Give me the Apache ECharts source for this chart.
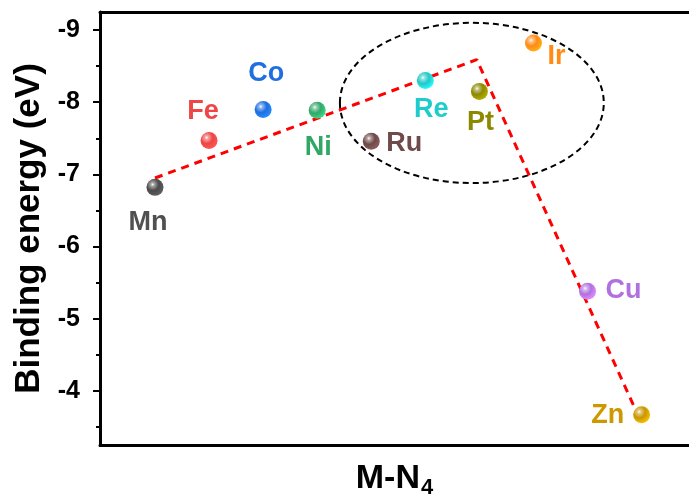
<!DOCTYPE html>
<html>
<head>
<meta charset="utf-8">
<script src="https://cdn.jsdelivr.net/npm/echarts@6/dist/echarts.min.js"></script>
<style>
html,body{margin:0;padding:0;background:#fff;}
#chart{width:689px;height:497px;}
</style>
</head>
<body>
<div id="chart"></div>
<script>
// ---- data ----
var metals = ['Mn', 'Fe', 'Co', 'Ni', 'Ru', 'Re', 'Pt', 'Ir', 'Cu', 'Zn'];
var xIndex = [0, 1, 2, 3, 4, 5, 6, 7, 8, 9];
var bindingEnergy = [-6.82, -7.47, -7.90, -7.89, -7.46, -8.30, -8.15, -8.82, -5.38, -3.67];
var trendX = [0, 5.95, 8.97];
var trendY = [-6.95, -8.59, -3.60];
var yTickValues = [-9, -8, -7, -6, -5, -4];
var yMinorTickValues = [-8.5, -7.5, -6.5, -5.5, -4.5, -3.5];
var ellipseCenter = [5.86, -7.99];
var ellipseRadii = [2.44, 1.11];

// ---- styles ----
var baseColors = ['#4a4a4a', '#ee4444', '#1c6ee0', '#30a868', '#6e4848', '#20c8c8', '#8c8800', '#ff8a14', '#b070e0', '#c89600'];
var labelColors = ['#505050', '#ee4646', '#1f6fe0', '#2fa866', '#6e4a4a', '#1ecccc', '#8c8800', '#ff8a14', '#b070e0', '#cc9a00'];
var labelOffsets = [[-7, 35], [-6, -29], [3, -36], [1, 37], [33, 2], [6, 29], [1, 31], [23, 14], [36, -1], [-34, 1]];
var FONT = '"Liberation Sans", Arial, sans-serif';

function sphere(c) {
  return new echarts.graphic.RadialGradient(0.36, 0.33, 0.72, [
    {offset: 0, color: '#ffffff'},
    {offset: 0.15, color: echarts.color.lift(c, 0.5)},
    {offset: 0.5, color: c},
    {offset: 1, color: echarts.color.lift(c, -0.3)}
  ]);
}

var scatterData = metals.map(function (m, i) {
  return {
    name: m,
    value: [xIndex[i], bindingEnergy[i]],
    itemStyle: {color: sphere(baseColors[i]), opacity: 1},
    label: {
      show: true,
      position: 'inside',
      offset: labelOffsets[i],
      formatter: m,
      color: labelColors[i],
      opacity: 1,
      fontSize: 27,
      fontWeight: 'bold',
      fontFamily: FONT
    }
  };
});

var chart = echarts.init(document.getElementById('chart'), null, {renderer: 'canvas'});
chart.setOption({
  backgroundColor: '#fff',
  animation: false,
  grid: {left: 100, right: 0, top: 12, bottom: 52, containLabel: false, outerBoundsMode: 'none'},
  xAxis: [{
    type: 'value',
    min: -1.017,
    max: 9.876,
    position: 'bottom',
    name: '{a|M-N}{b|4}',
    nameLocation: 'middle',
    nameGap: 14,
    nameTextStyle: {
      rich: {
        a: {fontSize: 34, fontWeight: 'bold', color: '#000', fontFamily: FONT},
        b: {fontSize: 22, fontWeight: 'bold', color: '#000', fontFamily: FONT, padding: [18, 0, 0, 1]}
      }
    },
    axisLine: {show: true, onZero: false, lineStyle: {color: '#000', width: 3}},
    axisTick: {show: false},
    axisLabel: {show: false},
    splitLine: {show: false}
  }, {
    type: 'value',
    min: -1.017,
    max: 9.876,
    position: 'top',
    axisLine: {show: true, onZero: false, lineStyle: {color: '#000', width: 3}},
    axisTick: {show: false},
    axisLabel: {show: false},
    splitLine: {show: false}
  }],
  yAxis: [{
    type: 'value',
    min: -9.25,
    max: -3.25,
    inverse: true,
    position: 'left',
    name: 'Binding energy (eV)',
    nameLocation: 'middle',
    nameGap: 47,
    nameTextStyle: {fontSize: 35, fontWeight: 'bold', color: '#000', fontFamily: FONT},
    axisLine: {show: true, onZero: false, lineStyle: {color: '#000', width: 3}},
    axisTick: {show: true, customValues: yTickValues, length: 7, lineStyle: {color: '#000', width: 2}},
    axisLabel: {show: true, customValues: yTickValues, margin: 20, fontSize: 25, fontWeight: 'bold', color: '#000', fontFamily: FONT,
      formatter: function (v) { return String(v); }},
    splitLine: {show: false}
  }, {
    type: 'value',
    min: -9.25,
    max: -3.25,
    inverse: true,
    position: 'left',
    offset: 0,
    axisLine: {show: false, onZero: false},
    axisTick: {show: true, customValues: yMinorTickValues, length: 4, lineStyle: {color: '#000', width: 2}},
    axisLabel: {show: false},
    splitLine: {show: false}
  }],
  series: [{
    type: 'custom',
    xAxisIndex: 0,
    yAxisIndex: 0,
    silent: true,
    z: 1,
    data: [[ellipseCenter[0], ellipseCenter[1], ellipseRadii[0], ellipseRadii[1]]],
    renderItem: function (params, api) {
      var c = api.coord([api.value(0), api.value(1)]);
      var s = api.size([api.value(2), api.value(3)]);
      return {
        type: 'ellipse',
        shape: {cx: c[0], cy: c[1], rx: s[0], ry: s[1]},
        style: {fill: null, stroke: '#000', lineWidth: 2, lineDash: [6, 4]}
      };
    }
  }, {
    type: 'line',
    xAxisIndex: 0,
    yAxisIndex: 0,
    z: 2,
    symbol: 'none',
    silent: true,
    data: trendX.map(function (x, i) { return [x, trendY[i]]; }),
    lineStyle: {color: '#ff0000', width: 3, type: [8, 6]}
  }, {
    type: 'scatter',
    xAxisIndex: 0,
    yAxisIndex: 0,
    z: 3,
    symbol: 'circle',
    symbolSize: 17,
    data: scatterData
  }]
});
</script>
</body>
</html>
